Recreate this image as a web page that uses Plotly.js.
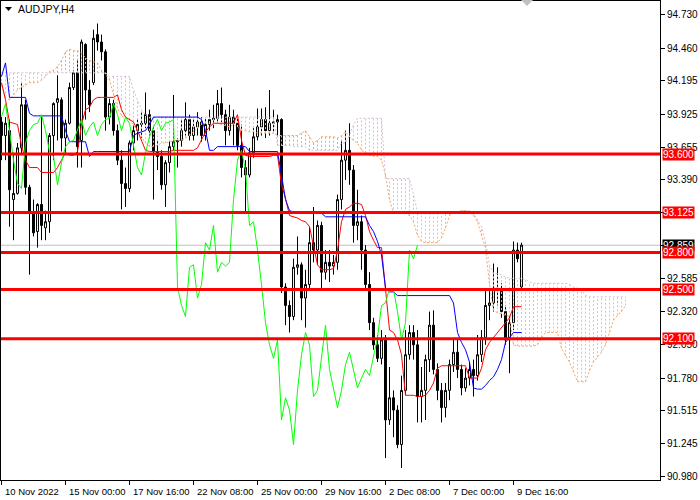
<!DOCTYPE html>
<html><head><meta charset="utf-8">
<script src="https://cdn.plot.ly/plotly-3.0.1.min.js"></script>
<style>html,body{margin:0;padding:0;background:#fff}#chart{width:700px;height:500px}</style>
</head><body><div id="chart"></div>
<script>
const symbol = "AUDJPY,H4";
const open = [
93.86,93.75,93.79,93.23,93.28,93.65,94.00,93.33,93.12,92.97,
93.19,93.00,93.05,93.75,94.02,94.04,93.73,93.85,94.14,94.26,
93.71,94.49,94.12,94.18,94.57,94.51,94.43,93.90,94.01,93.79,
93.55,93.36,93.32,93.69,93.79,93.84,93.85,93.92,93.79,93.62,
93.58,93.35,93.53,93.66,93.70,93.71,93.79,93.88,93.75,93.82,
93.86,93.75,93.84,93.88,93.89,94.01,93.92,93.79,93.90,93.85,
93.67,93.49,93.43,93.61,93.74,93.82,93.88,93.79,93.85,93.86,
93.88,92.52,92.37,92.28,92.68,92.70,92.43,92.54,92.88,92.82,
93.02,92.64,92.72,92.69,92.72,93.23,93.55,93.63,93.47,93.02,
93.05,92.82,92.54,92.23,92.05,91.94,92.09,91.44,91.62,91.52,
91.24,91.68,91.97,92.15,92.05,91.63,91.68,91.93,92.21,91.85,
91.68,91.54,91.68,91.89,91.99,91.85,91.70,91.78,91.85,91.80,
91.97,92.11,92.37,92.39,92.51,92.50,92.32,92.09,92.23,92.82,
92.52];
const high = [
93.90,93.90,93.88,93.61,93.69,94.18,94.04,93.35,93.23,93.20,
93.90,93.14,93.77,94.02,94.24,94.06,93.88,94.18,94.28,94.36,
94.53,94.50,94.20,94.61,94.66,94.57,94.45,94.05,94.04,93.84,
93.63,93.49,93.71,93.84,93.89,93.94,94.10,93.96,93.82,93.71,
93.63,93.55,93.71,94.08,93.73,93.88,94.02,93.92,93.89,93.94,
93.90,93.89,93.96,94.00,94.12,94.14,93.96,94.00,93.96,93.89,
93.84,93.55,93.65,93.81,93.97,93.97,93.98,94.12,93.96,93.92,
93.89,92.55,92.41,92.75,92.93,92.72,92.66,93.01,93.17,93.06,
93.05,92.82,92.82,92.78,93.27,93.71,93.79,93.85,93.51,93.31,
93.10,92.86,92.64,92.27,92.13,92.17,92.13,91.87,91.68,91.56,
91.80,92.17,92.21,92.21,92.17,91.87,91.97,92.32,92.33,91.90,
91.74,91.74,91.93,92.09,92.10,91.89,91.86,91.91,91.93,92.13,
92.17,92.51,92.50,92.71,92.68,92.55,92.37,92.29,92.89,92.88,
92.88];
const low = [
93.55,93.55,93.01,92.90,93.27,93.59,93.27,92.62,92.93,92.84,
92.90,92.90,92.96,93.55,93.71,93.62,93.61,93.84,94.12,93.49,
93.49,93.88,93.94,94.16,94.44,94.36,93.79,93.84,93.75,93.51,
93.15,93.17,93.29,93.63,93.71,93.73,93.81,93.75,93.23,93.47,
93.31,93.17,93.45,93.63,93.49,93.66,93.75,93.71,93.71,93.75,
93.70,93.71,93.79,93.81,93.86,93.86,93.67,93.75,93.67,93.63,
93.41,93.13,93.41,93.57,93.71,93.75,93.73,93.75,93.78,93.75,
92.47,92.21,92.15,92.25,92.62,92.25,92.19,92.50,92.72,92.70,
92.50,92.58,92.56,92.62,92.66,93.15,93.39,93.35,92.88,92.90,
92.66,92.49,92.17,92.01,91.91,91.89,91.13,91.40,91.30,91.21,
91.05,91.64,91.93,91.93,91.42,91.42,91.44,91.83,91.81,91.60,
91.42,91.46,91.60,91.83,91.78,91.64,91.67,91.72,91.63,91.76,
91.91,92.05,92.25,92.32,92.37,92.27,92.05,91.82,92.17,92.72,
92.49];
const close = [
93.75,93.85,93.31,93.28,93.65,94.00,93.33,93.12,92.96,93.19,
93.02,93.05,93.75,94.01,94.05,93.73,93.85,94.14,94.26,93.66,
94.51,94.12,94.00,94.54,94.51,94.43,93.90,94.01,93.79,93.55,
93.36,93.32,93.69,93.79,93.84,93.85,93.92,93.79,93.62,93.58,
93.35,93.53,93.66,93.70,93.71,93.79,93.88,93.75,93.82,93.86,
93.75,93.84,93.88,93.89,94.01,93.92,93.79,93.90,93.85,93.67,
93.49,93.43,93.61,93.74,93.82,93.88,93.79,93.85,93.86,93.88,
92.52,92.37,92.28,92.68,92.70,92.43,92.54,92.88,92.82,93.02,
92.64,92.72,92.69,92.72,93.23,93.55,93.63,93.47,93.02,93.05,
92.82,92.54,92.23,92.05,91.94,92.09,91.44,91.62,91.52,91.24,
91.68,91.97,92.15,92.05,91.63,91.68,91.93,92.21,91.85,91.68,
91.54,91.68,91.89,91.99,91.85,91.70,91.78,91.85,91.80,91.97,
92.11,92.37,92.39,92.51,92.50,92.32,92.09,92.23,92.82,92.75,
92.86];
const tenkan = [
94.18,94.04,93.86,93.85,93.84,93.67,93.55,93.49,93.49,93.49,
93.45,93.45,93.45,93.45,93.49,93.55,93.61,93.59,93.59,93.62,
93.84,93.96,93.98,94.04,94.06,94.06,94.06,94.06,94.06,94.08,
93.96,93.90,93.88,93.86,93.79,93.71,93.63,93.62,93.62,93.62,
93.62,93.62,93.62,93.63,93.63,93.63,93.63,93.63,93.63,93.65,
93.71,93.78,93.82,93.85,93.85,93.85,93.85,93.85,93.85,93.92,
93.71,93.59,93.58,93.58,93.58,93.58,93.58,93.58,93.59,93.59,
93.35,93.24,93.10,93.09,93.08,93.06,93.05,93.01,92.86,92.70,
92.66,92.66,92.66,92.67,92.82,93.05,93.15,93.17,93.20,93.20,
93.19,93.10,92.97,92.90,92.84,92.84,92.50,92.17,92.15,92.09,
91.97,91.64,91.64,91.64,91.63,91.63,91.64,91.68,91.74,91.86,
91.88,91.88,91.88,91.88,91.88,91.88,91.88,91.78,91.78,91.78,
91.86,92.01,92.07,92.11,92.15,92.19,92.23,92.27,92.36,92.36,
92.36];
const kijun = [
94.23,94.34,94.06,94.06,94.06,94.06,94.06,93.93,93.91,93.91,
93.91,93.91,93.91,93.91,93.91,93.91,93.79,93.70,93.70,93.70,
93.70,93.70,93.58,93.62,93.62,93.62,93.62,93.62,93.62,93.62,
93.62,93.62,93.62,93.75,93.77,93.78,93.79,93.84,93.90,93.90,
93.90,93.90,93.90,93.90,93.90,93.90,93.90,93.90,93.90,93.90,
93.88,93.79,93.63,93.63,93.66,93.66,93.66,93.66,93.66,93.66,
93.66,93.66,93.62,93.62,93.62,93.62,93.62,93.62,93.62,93.62,
93.43,93.23,93.14,93.13,93.13,93.13,93.13,93.13,93.13,93.13,
93.12,93.09,93.09,93.09,93.09,93.09,93.09,93.09,93.09,93.09,
93.09,93.09,93.02,92.97,92.89,92.78,92.51,92.48,92.48,92.45,
92.45,92.45,92.45,92.45,92.45,92.45,92.45,92.45,92.45,92.45,
92.45,92.45,92.45,92.39,92.15,92.07,92.01,91.91,91.70,91.69,
91.69,91.72,91.76,91.79,91.85,91.93,92.07,92.11,92.15,92.15,
92.15];
const senkouA = [
94.16,94.06,94.04,94.08,94.12,94.14,94.16,94.18,94.18,94.18,
94.20,94.23,94.27,94.28,94.31,94.36,94.43,94.45,94.44,94.44,
94.42,94.38,94.36,94.35,94.34,94.28,94.25,94.20,94.08,93.97,
93.91,93.89,93.88,93.83,93.78,93.74,93.69,93.66,93.66,93.67,
93.69,93.69,93.70,93.71,93.71,93.71,93.73,93.75,93.78,93.81,
93.84,93.85,93.85,93.84,93.85,93.84,93.83,93.82,93.84,93.82,
93.79,93.79,93.78,93.78,93.77,93.77,93.77,93.77,93.77,93.75,
93.75,93.75,93.75,93.75,93.75,93.77,93.79,93.74,93.69,93.71,
93.74,93.74,93.74,93.74,93.73,93.75,93.78,93.74,93.71,93.69,
93.63,93.61,93.59,93.58,93.58,93.55,93.43,93.23,93.12,93.12,
93.12,93.12,93.10,93.05,92.94,92.89,92.88,92.88,92.88,92.88,
92.92,93.00,93.10,93.13,93.13,93.14,93.14,93.13,93.10,93.05,
92.94,92.84,92.54,92.33,92.31,92.30,92.29,92.28,92.05,92.04,
92.04,92.04,92.04,92.04,92.05,92.11,92.15,92.15,92.15,92.15,
92.02,91.96,91.91,91.83,91.75,91.75,91.75,91.84,91.91,91.95,
91.99,92.05,92.15,92.25,92.29,92.32,92.37];
const senkouB = [
94.26,94.26,94.26,94.26,94.26,94.26,94.26,94.26,94.26,94.26,
94.26,94.26,94.26,94.26,94.26,94.26,94.26,94.26,94.26,94.26,
94.26,94.26,94.26,94.26,94.26,94.26,94.26,94.23,94.23,94.23,
94.23,94.23,94.23,94.12,94.04,93.96,93.92,93.90,93.90,93.90,
93.90,93.90,93.90,93.90,93.90,93.90,93.90,93.90,93.90,93.90,
93.90,93.90,93.90,93.90,93.90,93.90,93.90,93.90,93.90,93.90,
93.90,93.90,93.90,93.90,93.90,93.90,93.90,93.90,93.90,93.67,
93.67,93.67,93.67,93.66,93.66,93.66,93.66,93.63,93.63,93.63,
93.63,93.63,93.63,93.63,93.63,93.69,93.69,93.75,93.84,93.89,
93.89,93.89,93.89,93.89,93.89,93.89,93.40,93.40,93.40,93.40,
93.40,93.40,93.40,93.27,93.13,93.13,93.13,93.13,93.13,93.13,
93.13,93.13,93.13,93.13,93.13,93.14,93.14,93.14,93.12,93.06,
93.01,92.89,92.70,92.63,92.63,92.62,92.60,92.59,92.59,92.59,
92.59,92.58,92.56,92.55,92.55,92.55,92.55,92.55,92.55,92.55,
92.55,92.55,92.54,92.52,92.51,92.50,92.45,92.44,92.44,92.44,
92.44,92.44,92.44,92.44,92.44,92.44,92.44];
const levels = [93.600, 93.125, 92.800, 92.500, 92.100];
const bid = 92.859;
const yTicks = [94.730, 94.460, 94.195, 93.925, 93.655, 93.390, 93.125, 92.859, 92.585, 92.320, 92.050, 91.780, 91.515, 91.245, 90.980];
const xTickIdx = [0, 16, 32, 48, 64, 80, 96, 112, 128];
const xTickText = ["10 Nov 2022", "15 Nov 00:00", "17 Nov 16:00", "22 Nov 08:00", "25 Nov 00:00", "29 Nov 16:00", "2 Dec 08:00", "7 Dec 00:00", "9 Dec 16:00"];
const SHIFT = 26;

const FONT = "Liberation Sans, Arial, sans-serif";
const idx = close.map((_, i) => i);
const chX = [], chY = [];
for (let i = SHIFT; i < close.length; i++) { chX.push(i - SHIFT); chY.push(close[i]); }
const spanX = senkouA.map((_, j) => j);
const upX = [], upY = [], dnX = [], dnY = [];
for (let j = 0; j < senkouA.length; j++) {
  if (senkouA[j] >= senkouB[j]) { upX.push(j, j, null); upY.push(senkouA[j], senkouB[j], null); }
  else { dnX.push(j, j, null); dnY.push(senkouA[j], senkouB[j], null); }
}
const DOT = "2px,2px";
const traces = [
  {type: "scatter", mode: "lines", x: upX, y: upY, line: {color: "#f4a460", width: 1, dash: DOT}, hoverinfo: "skip", connectgaps: false},
  {type: "scatter", mode: "lines", x: dnX, y: dnY, line: {color: "#d8bfd8", width: 1, dash: DOT}, hoverinfo: "skip", connectgaps: false},
  {type: "scatter", mode: "lines", x: spanX, y: senkouA, line: {color: "#f4a460", width: 1, dash: DOT}},
  {type: "scatter", mode: "lines", x: spanX, y: senkouB, line: {color: "#d8bfd8", width: 1, dash: DOT}},
  {type: "candlestick", x: idx, open: open, high: high, low: low, close: close,
   increasing: {line: {color: "#000000", width: 1}, fillcolor: "#ffffff"},
   decreasing: {line: {color: "#000000", width: 1}, fillcolor: "#000000"}, whiskerwidth: 0},
  {type: "scatter", mode: "lines", x: idx, y: tenkan, line: {color: "#ff0000", width: 1}},
  {type: "scatter", mode: "lines", x: idx, y: kijun, line: {color: "#0000ff", width: 1}},
  {type: "scatter", mode: "lines", x: chX, y: chY, line: {color: "#00ff00", width: 1}}
];

function px2paperX(p) { return (p - 1) / 659; }
function px2paperY(p) { return 1 - (p - 1) / 479; }

const shapes = [
  {type: "line", xref: "paper", yref: "y", x0: 0, x1: 1, y0: bid, y1: bid, line: {color: "#c0c0c0", width: 1}, layer: "below"}
];
levels.forEach(v => shapes.push({type: "line", xref: "paper", yref: "y", x0: 0, x1: 1, y0: v, y1: v, line: {color: "#ff0000", width: 3}}));
shapes.push({type: "path", xref: "paper", yref: "paper", fillcolor: "#000000", line: {width: 0},
  path: `M ${px2paperX(5)} ${px2paperY(7)} L ${px2paperX(12)} ${px2paperY(7)} L ${px2paperX(8.5)} ${px2paperY(11)} Z`});
shapes.push({type: "path", xref: "paper", yref: "paper", fillcolor: "#c0c0c0", line: {width: 0},
  path: `M ${px2paperX(521)} ${px2paperY(0)} L ${px2paperX(533)} ${px2paperY(0)} L ${px2paperX(527)} ${px2paperY(6)} Z`});

const annotations = [
  {xref: "paper", yref: "paper", x: px2paperX(16), y: px2paperY(9), xanchor: "left", yanchor: "middle", showarrow: false,
   text: symbol, font: {family: FONT, size: 10.5, color: "#000000"}},
  {xref: "paper", yref: "y", x: px2paperX(662), y: bid, xanchor: "left", yanchor: "middle", showarrow: false,
   text: bid.toFixed(3), bgcolor: "#000000", font: {family: FONT, size: 10, color: "#ffffff"}, borderpad: 0}
];
levels.forEach(v => annotations.push({xref: "paper", yref: "y", x: px2paperX(662), y: v, xanchor: "left", yanchor: "middle", showarrow: false,
  text: v.toFixed(3), bgcolor: "#ff0000", font: {family: FONT, size: 10, color: "#ffffff"}, borderpad: 0}));
xTickIdx.forEach((t, k) => annotations.push({xref: "x", yref: "paper", x: t, y: px2paperY(491), xanchor: "left", yanchor: "middle",
  xshift: 1, showarrow: false, text: xTickText[k], font: {family: FONT, size: 9.5, color: "#000000"}}));

// tick labels hidden under the price boxes are left blank
const covered = [levels[1], bid];
const yTickText = yTicks.map(v => covered.some(c => Math.abs(c - v) < 0.002) ? "" : v.toFixed(3));

const layout = {
  width: 700, height: 500,
  margin: {l: 1, r: 40, t: 1, b: 20, pad: 0},
  paper_bgcolor: "#ffffff", plot_bgcolor: "#ffffff",
  showlegend: false,
  font: {family: FONT, size: 10, color: "#000000"},
  xaxis: {type: "linear", range: [-0.125, 164.625], tickvals: xTickIdx, ticktext: xTickText, showticklabels: false,
    ticks: "outside", ticklen: 4, tickcolor: "#000000", tickwidth: 1,
    showgrid: false, zeroline: false, showline: true, mirror: true, linecolor: "#000000", linewidth: 1,
    rangeslider: {visible: false}, automargin: false, fixedrange: true},
  yaxis: {side: "right", range: [90.952, 94.843], tickvals: yTicks, ticktext: yTickText,
    ticks: "outside", ticklen: 4, tickcolor: "#000000", tickwidth: 1,
    showgrid: false, zeroline: false, showline: true, mirror: true, linecolor: "#000000", linewidth: 1,
    automargin: false, fixedrange: true, tickfont: {family: FONT, size: 10, color: "#000000"}},
  shapes: shapes, annotations: annotations
};
Plotly.newPlot("chart", traces, layout, {staticPlot: true, displayModeBar: false});
</script></body></html>
